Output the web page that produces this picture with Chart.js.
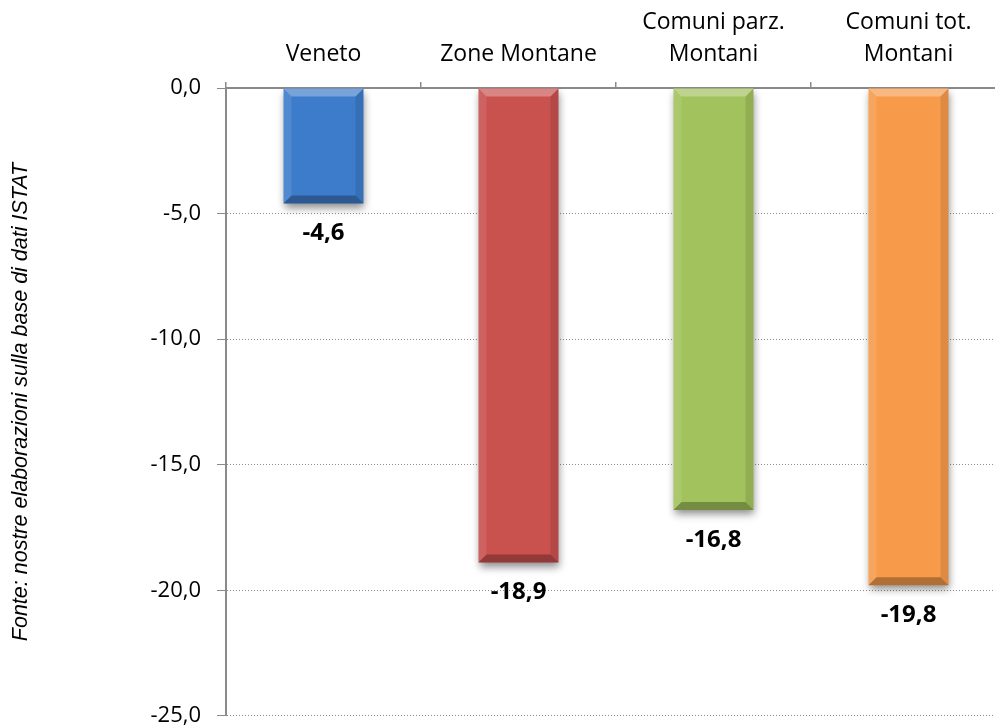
<!DOCTYPE html>
<html>
<head>
<meta charset="utf-8">
<script src="https://cdn.jsdelivr.net/npm/chart.js@4.4.1/dist/chart.umd.min.js"></script>
<style>
  html, body { margin: 0; padding: 0; background: #fff; overflow: hidden; }
  #wrap { width: 995px; height: 726px; position: relative; overflow: hidden; }
</style>
</head>
<body>
<div id="wrap"><canvas id="chart" width="1008" height="745"></canvas></div>
<script>
// Population change (%), by territorial area
const categories = [
  ['Veneto'],
  ['Zone Montane'],
  ['Comuni parz.', 'Montani'],
  ['Comuni tot.', 'Montani']
];
const values = [-4.6, -18.9, -16.8, -19.8];
const barColors = ['#3d7cca', '#c9514e', '#a2c25d', '#f79a4a'];
const yMin = -25;
const yMax = 0;
const yStep = 5;
const sourceNote = 'Fonte: nostre elaborazioni sulla base di dati ISTAT';

const fmt = v => v.toFixed(1).replace('.', ',');

// Bevelled bars with drop shadow, value labels under each bar, and the source note
const decorations = {
  id: 'decorations',
  beforeDatasetsDraw(chart) {
    const ctx = chart.ctx;
    ctx.save();
    ctx.shadowColor = 'rgba(0,0,0,0.45)';
    ctx.shadowBlur = 8;
    ctx.shadowOffsetX = 1;
    ctx.shadowOffsetY = 4;
  },
  afterDatasetsDraw(chart) {
    const ctx = chart.ctx;
    ctx.restore();
    const meta = chart.getDatasetMeta(0);
    meta.data.forEach((bar, i) => {
      const p = bar.getProps(['x', 'y', 'base', 'width'], true);
      const L = p.x - p.width / 2, R = p.x + p.width / 2;
      const T = Math.min(p.y, p.base), B = Math.max(p.y, p.base);
      const b = 8;
      const poly = (pts, fill) => {
        ctx.beginPath();
        ctx.moveTo(pts[0][0], pts[0][1]);
        for (let k = 1; k < pts.length; k++) ctx.lineTo(pts[k][0], pts[k][1]);
        ctx.closePath();
        ctx.fillStyle = fill;
        ctx.fill();
      };
      ctx.save();
      poly([[L, T], [R, T], [R - b, T + b], [L + b, T + b]], 'rgba(255,255,255,0.30)');
      poly([[L, T], [L + b, T + b], [L + b, B - b], [L, B]], 'rgba(255,255,255,0.10)');
      poly([[R, T], [R, B], [R - b, B - b], [R - b, T + b]], 'rgba(0,0,0,0.10)');
      poly([[L, B], [R, B], [R - b, B - b], [L + b, B - b]], 'rgba(0,0,0,0.28)');
      // value label
      ctx.font = 'bold 24px "Open Sans", sans-serif';
      ctx.fillStyle = '#000';
      ctx.textAlign = 'center';
      ctx.textBaseline = 'middle';
      ctx.fillText(fmt(values[i]), p.x, B + 30);
      ctx.restore();
    });
  },
  afterDraw(chart) {
    const ctx = chart.ctx;
    ctx.save();
    ctx.translate(21, 402);
    ctx.rotate(-Math.PI / 2);
    ctx.font = 'italic 21.5px "Liberation Sans", Arial, sans-serif';
    ctx.fillStyle = '#000';
    ctx.textAlign = 'center';
    ctx.textBaseline = 'middle';
    ctx.fillText(sourceNote, 0, 0);
    ctx.restore();
  }
};

new Chart(document.getElementById('chart'), {
  type: 'bar',
  data: {
    labels: categories,
    datasets: [{
      data: values,
      backgroundColor: barColors,
      borderWidth: 0,
      categoryPercentage: 1,
      barPercentage: 0.41
    }]
  },
  options: {
    responsive: false,
    animation: false,
    events: [],
    layout: { autoPadding: false, padding: { left: 0, right: 2, top: 0, bottom: 10 } },
    plugins: {
      legend: { display: false },
      tooltip: { enabled: false }
    },
    scales: {
      x: {
        position: 'top',
        offset: true,
        grid: {
          display: true,
          drawOnChartArea: false,
          drawTicks: true,
          tickLength: 6,
          color: '#8a8a8a',
          tickColor: '#8a8a8a',
          lineWidth: 1.5
        },
        border: { display: true, color: '#8a8a8a', width: 2 },
        ticks: {
          color: '#000',
          font: { family: '"Open Sans", sans-serif', size: 23, lineHeight: 1.42 },
          padding: 11,
          maxRotation: 0,
          autoSkip: false
        },
        afterFit(scale) { scale.height = 88; }
      },
      y: {
        min: yMin,
        max: yMax,
        grid: {
          color: '#8c8c8c',
          lineWidth: 1,
          tickBorderDash: [],
          tickColor: '#8a8a8a',
          tickLength: 9,
          drawTicks: true
        },
        border: { display: true, color: '#8a8a8a', width: 2, dash: [1, 2] },
        ticks: {
          stepSize: yStep,
          color: '#000',
          font: { family: '"Open Sans", sans-serif', size: 22 },
          padding: 16,
          callback: v => fmt(v)
        },
        afterFit(scale) { scale.width = 226; }
      }
    }
  },
  plugins: [decorations]
});
</script>
</body>
</html>
